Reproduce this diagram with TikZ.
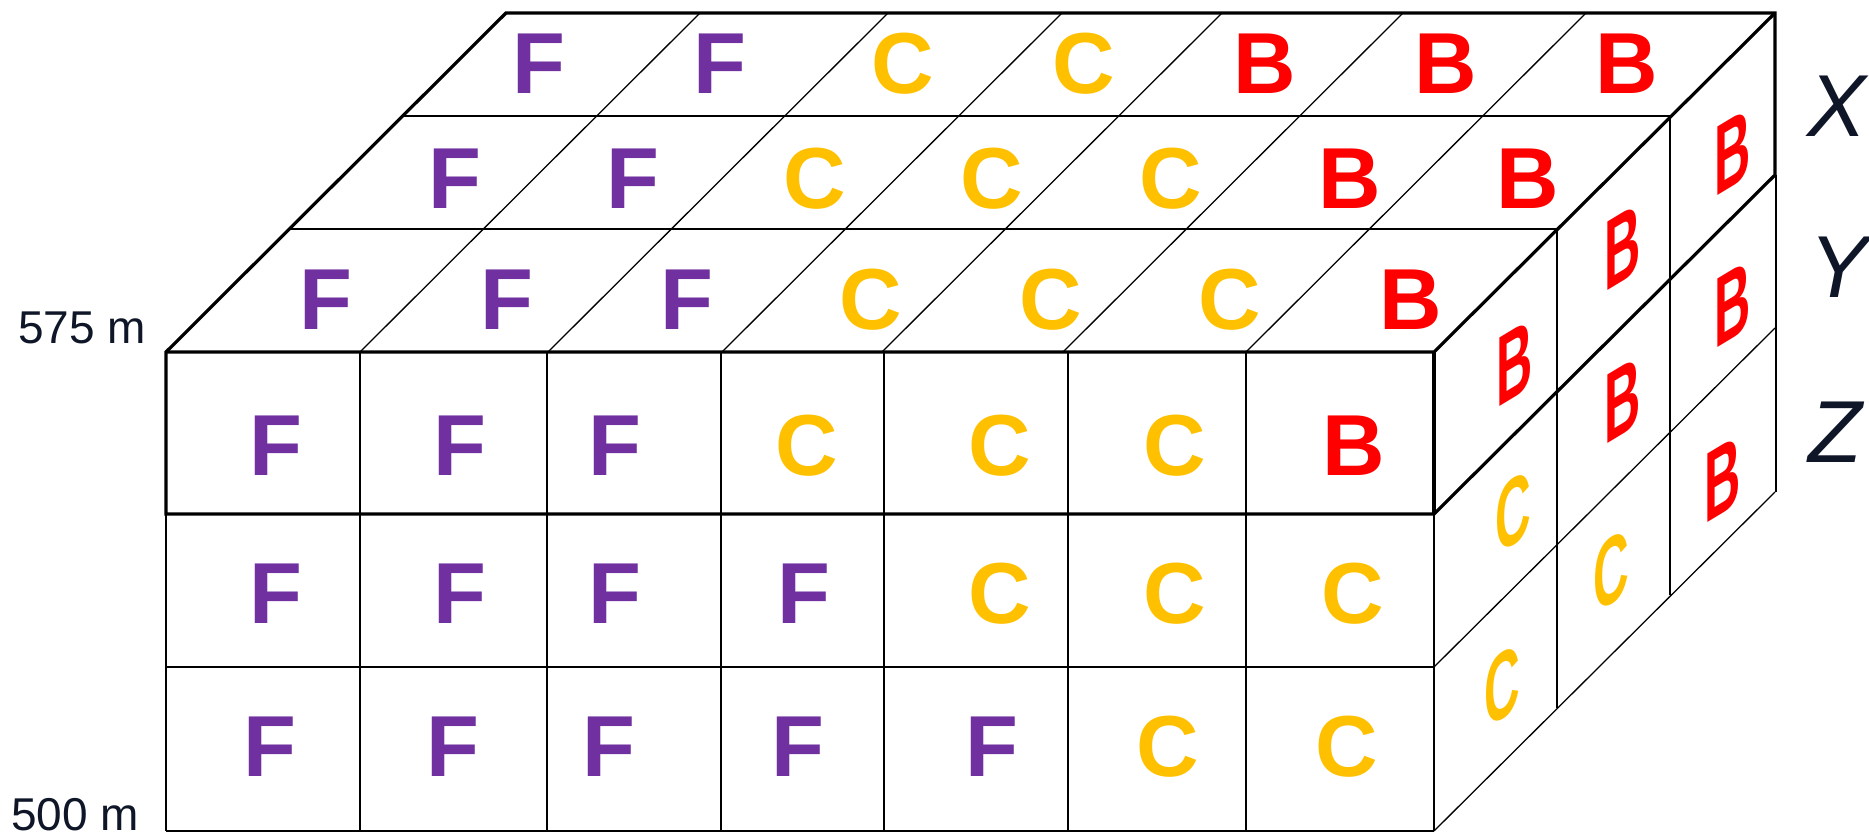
\documentclass[tikz,border=0pt]{standalone}
\usepackage{fontspec}
\setmainfont{Liberation Sans}
\definecolor{fpurple}{HTML}{7030A0}
\definecolor{cgold}{HTML}{FFC000}
\definecolor{bred}{HTML}{FF0000}
\definecolor{navy}{HTML}{0E1628}
\begin{document}
\begin{tikzpicture}[x=1pt,y=-1pt,
  gl/.style={line width=1.3pt,black},
  ol/.style={line width=3.2pt,black,line join=miter},
  letter/.style={font=\fontsize{86.6}{90}\selectfont\bfseries,inner sep=0pt,anchor=center},
  fl/.style={letter,text=fpurple},
  cl/.style={letter,text=cgold},
  bl/.style={letter,text=bred},
  sb/.style={bl,cm={0.58,0.35,0,1.15,(0,0)}},
  sc/.style={cl,cm={0.57,0.34,0,1.1,(0,0)}},
  lab/.style={font=\fontsize{46}{50}\selectfont,text=navy,inner sep=0pt,anchor=base west},
  axl/.style={font=\fontsize{88}{92}\selectfont\itshape,text=navy,inner sep=0pt,anchor=base}]
\useasboundingbox (0,0) rectangle (1869,837);
% ---------- corner coordinates ----------
\coordinate (FL) at (166,352);  \coordinate (FR) at (1434,352);
\coordinate (BL) at (506,13);   \coordinate (BR) at (1775,13);
% ---------- front face, thin grid ----------
\foreach \x in {360,547,721,884,1068,1246}{\draw[gl] (\x,352) -- (\x,831);}
\draw[gl] (166,514) -- (166,831);
\draw[gl] (1434,514) -- (1434,831);
\draw[gl] (166,667) -- (1434,667);
\draw[gl] (166,831) -- (1434,831);
% ---------- top face, thin grid ----------
\foreach \x in {360,548,722,882,1063,1246}{\draw[gl] (\x,352) -- ++(340,-339);}
\draw[gl] (291,229) -- (1557,229);
\draw[gl] (404,116) -- (1670,116);
% ---------- right face, thin grid ----------
\draw[gl] (1557,229) -- (1557,708);
\draw[gl] (1670,116) -- (1670,595);
\draw[gl] (1434,667) -- (1775,328);
\draw[gl] (1434,831) -- (1775,492);
\draw[gl] (1776,175) -- (1776,492);
% ---------- thick outline of top layer ----------
\draw[ol] (166,514) -- (FL) -- (BL) -- (BR) -- (1775,175) -- (1434,514) -- cycle;
\draw[ol] (FL) -- (FR) -- (BR);
\draw[ol] (FR) -- (1434,514);
% ---------- top face letters ----------
\node[fl] (t11) at (539,64) {F};  \node[fl] (t12) at (720,64) {F};
\node[cl] (t13) at (903,64) {C};  \node[cl] (t14) at (1084,64) {C};
\node[bl] (t15) at (1265,64) {B}; \node[bl] (t16) at (1446,64) {B};
\node[bl] (t17) at (1627,64) {B};
\node[fl] (t21) at (455,179) {F}; \node[fl] (t22) at (633,179) {F};
\node[cl] (t23) at (815,179) {C}; \node[cl] (t24) at (992,179) {C};
\node[cl] (t25) at (1171,179) {C};\node[bl] (t26) at (1350,179) {B};
\node[bl] (t27) at (1528,179) {B};
\node[fl] (t31) at (326,300) {F}; \node[fl] (t32) at (507,300) {F};
\node[fl] (t33) at (687,300) {F}; \node[cl] (t34) at (871,300) {C};
\node[cl] (t35) at (1051,300) {C};\node[cl] (t36) at (1230,300) {C};
\node[bl] (t37) at (1411,300) {B};
% ---------- front face letters ----------
\node[fl] (f11) at (276,446) {F}; \node[fl] (f12) at (460,446) {F};
\node[fl] (f13) at (615,446) {F}; \node[cl] (f14) at (807,446) {C};
\node[cl] (f15) at (1000,446) {C};\node[cl] (f16) at (1175,446) {C};
\node[bl] (f17) at (1354,446) {B};
\node[fl] (f21) at (276,594) {F}; \node[fl] (f22) at (460,594) {F};
\node[fl] (f23) at (615,594) {F}; \node[fl] (f24) at (804,594) {F};
\node[cl] (f25) at (1000,594) {C};\node[cl] (f26) at (1175,594) {C};
\node[cl] (f27) at (1353,594) {C};
\node[fl] (f31) at (270,747) {F}; \node[fl] (f32) at (453,747) {F};
\node[fl] (f33) at (609,747) {F}; \node[fl] (f34) at (798,747) {F};
\node[fl] (f35) at (992,747) {F}; \node[cl] (f36) at (1168,747) {C};
\node[cl] (f37) at (1347,747) {C};
% ---------- right face letters ----------
\node[sb] (r11) at (1515,363) {B};
\node[sb] (r12) at (1623,247) {B};
\node[sb] (r13) at (1733,152) {B};
\node[sc] (r21) at (1513,512) {C};
\node[sb] (r22) at (1623,400) {B};
\node[sb] (r23) at (1733,304) {B};
\node[sc] (r31) at (1502,686) {C};
\node[sc] (r32) at (1611,571) {C};
\node[sb] (r33) at (1723,479) {B};
% ---------- labels ----------
\node[lab] (l575) at (18,343) {575 m};
\node[lab] (l500) at (11,830) {500 m};
\node[axl] (lx) at (1837,137) {X};
\node[axl] (ly) at (1839,298) {Y};
\node[axl] (lz) at (1835,462) {Z};
\end{tikzpicture}
\end{document}
